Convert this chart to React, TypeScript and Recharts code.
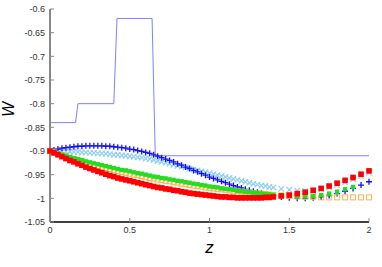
import { ComposedChart, Scatter, XAxis, YAxis } from "recharts";

// z positions of the sampled points: every 0.025 up to 1.4, then every 0.05
const zs = [
  0, 0.025, 0.05, 0.075, 0.1, 0.125, 0.15, 0.175, 0.2, 0.225, 0.25, 0.275,
  0.3, 0.325, 0.35, 0.375, 0.4, 0.425, 0.45, 0.475, 0.5, 0.525, 0.55, 0.575,
  0.6, 0.625, 0.65, 0.675, 0.7, 0.725, 0.75, 0.775, 0.8, 0.825, 0.85, 0.875,
  0.9, 0.925, 0.95, 0.975, 1, 1.025, 1.05, 1.075, 1.1, 1.125, 1.15, 1.175,
  1.2, 1.225, 1.25, 1.275, 1.3, 1.325, 1.35, 1.375, 1.4,
  1.45, 1.5, 1.55, 1.6, 1.65, 1.7, 1.75, 1.8, 1.85, 1.9, 1.95, 2,
];

const darkBlue = [
  -0.9, -0.898, -0.896, -0.894, -0.893, -0.892, -0.891, -0.89, -0.89, -0.889,
  -0.889, -0.889, -0.889, -0.889, -0.89, -0.89, -0.891, -0.892, -0.893,
  -0.894, -0.896, -0.897, -0.899, -0.901, -0.903, -0.905, -0.908, -0.911,
  -0.914, -0.917, -0.92, -0.923, -0.927, -0.93, -0.934, -0.937, -0.941,
  -0.944, -0.948, -0.951, -0.955,
  -0.958, -0.961, -0.964, -0.967, -0.97, -0.973, -0.976, -0.978, -0.981,
  -0.983, -0.985, -0.987, -0.989, -0.991, -0.993, -0.994,
  -0.997, -0.999, -1.0, -1.0, -0.999, -0.997, -0.994, -0.99, -0.985, -0.979,
  -0.972, -0.965,
];

const lightBlue = [
  -0.9, -0.9, -0.9, -0.901, -0.901, -0.901, -0.902, -0.902, -0.903, -0.903,
  -0.904, -0.904, -0.905, -0.905, -0.906, -0.907, -0.908, -0.908, -0.909,
  -0.91, -0.911, -0.912, -0.913, -0.914, -0.916, -0.917, -0.919, -0.921,
  -0.923, -0.925, -0.927, -0.929, -0.931, -0.933, -0.935, -0.937, -0.939,
  -0.941, -0.943, -0.945, -0.947,
  -0.949, -0.951, -0.953, -0.955, -0.957, -0.959, -0.961, -0.963, -0.965,
  -0.967, -0.969, -0.971, -0.973, -0.974, -0.976, -0.977,
  -0.98, -0.982, -0.984, -0.985, -0.984, -0.981, -0.977, -0.972, -0.966,
  -0.96, -0.953, -0.946,
];

// green stops at z = 1.9
const green = [
  -0.9, -0.903, -0.905, -0.908, -0.91, -0.913, -0.915, -0.917, -0.919,
  -0.922, -0.924, -0.926, -0.928, -0.93, -0.932, -0.934, -0.936, -0.938,
  -0.94, -0.941, -0.943, -0.945, -0.947, -0.948, -0.95, -0.952, -0.954,
  -0.955, -0.957, -0.958, -0.96, -0.961, -0.963, -0.964, -0.966, -0.967,
  -0.969, -0.97, -0.972, -0.973, -0.975,
  -0.976, -0.977, -0.979, -0.98, -0.981, -0.982, -0.984, -0.985, -0.986,
  -0.987, -0.988, -0.989, -0.99, -0.991, -0.992, -0.993,
  -0.994, -0.995, -0.996, -0.996, -0.995, -0.993, -0.99, -0.986, -0.981,
  -0.976,
];

const orange = [
  -0.9, -0.903, -0.906, -0.909, -0.912, -0.915, -0.917, -0.92, -0.922,
  -0.925, -0.927, -0.93, -0.932, -0.934, -0.936, -0.938, -0.94, -0.942,
  -0.944, -0.946, -0.948, -0.95, -0.951, -0.953, -0.955, -0.957, -0.958,
  -0.96, -0.961, -0.963, -0.964, -0.966, -0.967, -0.969, -0.97, -0.972,
  -0.973, -0.974, -0.975, -0.977, -0.978,
  -0.979, -0.98, -0.981, -0.982, -0.983, -0.984, -0.985, -0.986, -0.987,
  -0.988, -0.989, -0.99, -0.99, -0.991, -0.992, -0.993,
  -0.994, -0.995, -0.996, -0.997, -0.997, -0.998, -0.998, -0.998, -0.998,
  -0.998, -0.998, -0.998,
];

const red = [
  -0.9, -0.904, -0.908, -0.912, -0.916, -0.92, -0.923, -0.927, -0.93, -0.934,
  -0.937, -0.94, -0.943, -0.946, -0.949, -0.952, -0.954, -0.957, -0.959,
  -0.961, -0.963, -0.965, -0.967, -0.969, -0.971, -0.973, -0.975, -0.977,
  -0.978, -0.98, -0.981, -0.983, -0.984, -0.986, -0.987, -0.989, -0.99,
  -0.991, -0.992, -0.993, -0.994,
  -0.995, -0.996, -0.997, -0.997, -0.998, -0.998, -0.999, -0.999, -0.999,
  -0.999, -0.999, -0.999, -0.999, -0.998, -0.998, -0.997,
  -0.995, -0.993, -0.99, -0.987, -0.983, -0.979, -0.974, -0.968, -0.962,
  -0.956, -0.949, -0.942,
];

// stepped line
const stepZ = [0, 0.16, 0.175, 0.4, 0.42, 0.64, 0.66, 2];
const stepW = [-0.84, -0.84, -0.8, -0.8, -0.62, -0.62, -0.91, -0.91];

const xTicks = [0, 0.5, 1, 1.5, 2];
const yTicks = [-1.05, -1, -0.95, -0.9, -0.85, -0.8, -0.75, -0.7, -0.65, -0.6];

const pts = (vals: number[]) => vals.map((w, i) => ({ z: zs[i], w }));
const stepData = stepZ.map((z, i) => ({ z, w: stepW[i] }));

const font = "'Liberation Sans', Arial, sans-serif";
const tickStyle = { fontSize: 9, fill: "#333", fontFamily: font };

const Plus = ({ cx, cy }: any) => (
  <path
    d={`M${cx - 3},${cy}h6M${cx},${cy - 3}v6`}
    stroke="#1010f0"
    strokeWidth={1.3}
  />
);
const Cross = ({ cx, cy }: any) => (
  <path
    d={`M${cx - 2.8},${cy - 2.8}l5.6,5.6M${cx - 2.8},${cy + 2.8}l5.6,-5.6`}
    stroke="#8fd0ee"
    strokeWidth={1.2}
  />
);
const GreenSq = ({ cx, cy }: any) => (
  <rect x={cx - 2.2} y={cy - 2.2} width={4.4} height={4.4} fill="#22dd22" />
);
const OrangeSq = ({ cx, cy }: any) => (
  <rect
    x={cx - 2.5}
    y={cy - 2.5}
    width={5}
    height={5}
    fill="none"
    stroke="#ffb347"
    strokeWidth={1}
  />
);
const RedSq = ({ cx, cy }: any) => (
  <rect x={cx - 2.8} y={cy - 2.8} width={5.6} height={5.6} fill="#ff0000" />
);
const NoDot = () => <g />;
const NoTick = () => <g />;

const YLabel = ({ viewBox }: any) => {
  const x = viewBox.x + 14;
  const y = viewBox.y + viewBox.height / 2 - 6;
  return (
    <text
      x={x}
      y={y}
      transform={`rotate(-90 ${x} ${y})`}
      textAnchor="middle"
      fontSize={16}
      fontStyle="italic"
      fontFamily={font}
      fill="#000"
    >
      W
    </text>
  );
};

export default function App() {
  return (
    <div style={{ position: "absolute", left: 0, top: 0, background: "#fff" }}>
      <ComposedChart
        width={382}
        height={267}
        margin={{ top: 9, right: 13, bottom: 9, left: 0 }}
      >
        <XAxis
          xAxisId="b"
          dataKey="z"
          type="number"
          domain={[0, 2]}
          ticks={xTicks}
          height={36}
          tick={tickStyle}
          tickSize={-4}
          tickMargin={9}
          axisLine={{ stroke: "#000", strokeWidth: 1.5 }}
          tickLine={{ stroke: "#888" }}
          label={{
            value: "z",
            position: "insideBottom",
            offset: 5,
            fontSize: 17,
            fontStyle: "italic",
            fontFamily: font,
            fill: "#000",
          }}
        />
        <XAxis
          xAxisId="t"
          orientation="top"
          dataKey="z"
          type="number"
          domain={[0, 2]}
          ticks={xTicks}
          height={0}
          tick={NoTick}
          tickSize={-4}
          axisLine={{ stroke: "#888", strokeWidth: 2 }}
          tickLine={{ stroke: "#888" }}
        />
        <YAxis
          yAxisId="l"
          dataKey="w"
          type="number"
          domain={[-1.05, -0.6]}
          ticks={yTicks}
          width={50}
          tick={tickStyle}
          tickSize={-4}
          tickMargin={9}
          axisLine={{ stroke: "#888", strokeWidth: 2 }}
          tickLine={{ stroke: "#888" }}
          label={<YLabel />}
        />
        <YAxis
          yAxisId="r"
          orientation="right"
          dataKey="w"
          type="number"
          domain={[-1.05, -0.6]}
          ticks={yTicks}
          width={0}
          tick={NoTick}
          tickSize={-4}
          axisLine={{ stroke: "#000", strokeWidth: 1.5 }}
          tickLine={{ stroke: "#888" }}
        />
        <Scatter
          xAxisId="b"
          yAxisId="l"
          data={stepData}
          dataKey="w"
          line={{ stroke: "#8080ff", strokeWidth: 1 }}
          lineType="joint"
          shape={NoDot}
          isAnimationActive={false}
        />
        <Scatter xAxisId="b" yAxisId="l" data={pts(lightBlue)} dataKey="w" shape={Cross} isAnimationActive={false} />
        <Scatter xAxisId="b" yAxisId="l" data={pts(darkBlue)} dataKey="w" shape={Plus} isAnimationActive={false} />
        <Scatter xAxisId="b" yAxisId="l" data={pts(orange)} dataKey="w" shape={OrangeSq} isAnimationActive={false} />
        <Scatter xAxisId="b" yAxisId="l" data={pts(green)} dataKey="w" shape={GreenSq} isAnimationActive={false} />
        <Scatter xAxisId="b" yAxisId="l" data={pts(red)} dataKey="w" shape={RedSq} isAnimationActive={false} />
      </ComposedChart>
    </div>
  );
}
